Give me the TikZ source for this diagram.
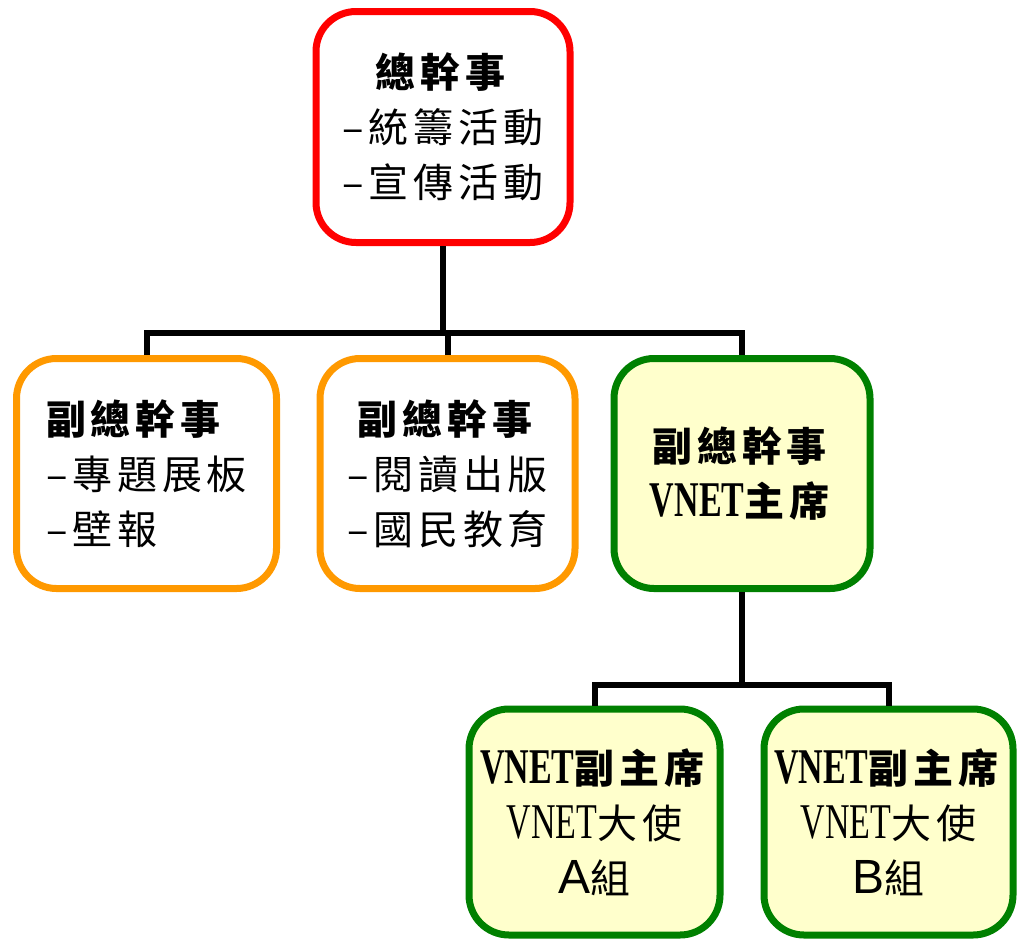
\documentclass[tikz,border=0pt]{standalone}
\usepackage{fontspec}
\setmainfont{Noto Sans CJK TC}[LetterSpace=12]
\newfontfamily\latinf{Liberation Serif}[FakeStretch=0.68,Scale=1.25]
\newfontfamily\arialf{Liberation Sans}[Scale=1.2]
\newcommand{\vnet}{{\latinf VNET}}
\definecolor{cRed}{HTML}{FF0000}
\definecolor{cOrange}{HTML}{FF9900}
\definecolor{cGreen}{HTML}{008000}
\definecolor{cFill}{HTML}{FFFFCC}
\begin{document}
\begin{tikzpicture}[x=1pt,y=-1pt,
  box/.style={rectangle, rounded corners=40pt, line width=7pt, minimum width=254pt,
    minimum height=228pt, inner sep=0pt, align=center,
    font=\fontsize{40}{55}\selectfont},
  redbox/.style={box, draw=cRed, fill=white},
  orangebox/.style={box, draw=cOrange, fill=white},
  greenbox/.style={box, draw=cGreen, fill=cFill},
  conn/.style={line width=6pt, draw=black, line join=miter}]
\useasboundingbox (0,0) rectangle (1017,938);

\node[redbox, minimum width=254pt, minimum height=231pt] (top) at (443,127) {\textbf{總幹事}\\–統籌活動\\–宣傳活動};
\node[orangebox, align=left, minimum width=260pt, minimum height=230pt] (o1) at (146.5,473.5)
  {\textbf{副總幹事}\\–專題展板\\–壁報};
\node[orangebox, minimum width=255pt, minimum height=230pt] (o2) at (447.5,473.5)
  {\textbf{副總幹事}\\–閱讀出版\\–國民教育};
\node[greenbox, minimum width=256pt, minimum height=230pt] (g) at (742,473.5)
  {\textbf{副總幹事}\\\textbf{\vnet 主席}};
\node[greenbox, minimum width=251pt, minimum height=226pt] (b1) at (594.5,822)
  {\textbf{\vnet 副主席}\\\vnet 大使\\{\arialf A}組};
\node[greenbox, minimum width=249pt, minimum height=226pt] (b2) at (888.5,822)
  {\textbf{\vnet 副主席}\\\vnet 大使\\{\arialf B}組};

\coordinate (bus1) at (0,333);
\coordinate (bus2) at (0,685);
\draw[conn] (top.south) -- (top.south |- bus1);
\draw[conn] (o1.north) -- (o1.north |- bus1) -- (g.north |- bus1) -- (g.north);
\draw[conn] (o2.north) -- (o2.north |- bus1);
\draw[conn] (g.south) -- (g.south |- bus2);
\draw[conn] (b1.north) -- (b1.north |- bus2) -- (b2.north |- bus2) -- (b2.north);
\end{tikzpicture}
\end{document}
